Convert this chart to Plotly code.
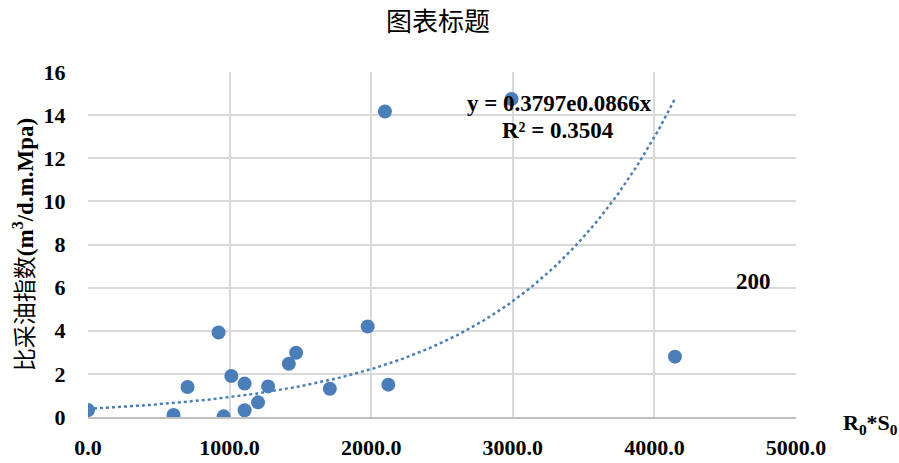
import numpy as np
import plotly.graph_objects as go

# Measured samples: R0*S0 vs specific productivity index
r0s0 = [0, 604, 703, 922, 958, 1012, 1106, 1106, 1201, 1272, 1418, 1470,
        1708, 1975, 2097, 2121, 2991, 4145]
pi_index = [0.32, 0.09, 1.39, 3.92, 0.03, 1.90, 1.55, 0.31, 0.68, 1.42, 2.47,
            2.98, 1.31, 4.20, 14.17, 1.50, 14.75, 2.80]

# Exponential trend y = a * exp(b * x)
trend_a = 0.3797
trend_b = 0.000883
x_ticks = [0, 1000, 2000, 3000, 4000, 5000]
y_ticks = [0, 2, 4, 6, 8, 10, 12, 14, 16]

blue = "#4a7ebb"
serif = "Liberation Serif, Times New Roman, serif"
cjk = "Noto Sans CJK SC"

# plot-area edges in pixels, used to place free-floating labels
L, R, T, B = 88, 796, 72, 417

def px(x):
    return (x - L) / (R - L)

def py(y):
    return (B - y) / (B - T)

xt = np.linspace(min(r0s0), max(r0s0), 200)
yt = trend_a * np.exp(trend_b * xt)

fig = go.Figure()
fig.add_trace(go.Scatter(x=xt, y=yt, mode="lines",
                         line=dict(color=blue, width=2.5, dash="dot"),
                         hoverinfo="skip", showlegend=False))
fig.add_trace(go.Scatter(x=r0s0, y=pi_index, mode="markers",
                         marker=dict(color=blue, size=14, line=dict(width=0)),
                         showlegend=False))

fig.update_layout(
    width=899, height=463,
    margin=dict(l=L, r=899 - R, t=T, b=463 - B),
    paper_bgcolor="white", plot_bgcolor="white",
    title=dict(text="图表标题", x=(438 / 899), xanchor="center", y=1 - 22 / 463, yanchor="middle",
               font=dict(family=cjk, size=26, color="#000")),
    xaxis=dict(range=[0, 5000], tickvals=x_ticks, tickformat=".1f",
               showgrid=True, gridcolor="#d9d9d9", gridwidth=1.5,
               zeroline=False, showline=True, linecolor="#bfbfbf", linewidth=2,
               ticks="outside", ticklen=10, tickcolor="rgba(0,0,0,0)",
               automargin=False,
               tickfont=dict(family=serif, size=22, color="#000", weight="bold")),
    yaxis=dict(range=[0, 16], tickvals=y_ticks,
               showgrid=True, gridcolor="#d9d9d9", gridwidth=1.5,
               zeroline=False, showline=False,
               ticks="outside", ticklen=17, tickcolor="rgba(0,0,0,0)",
               automargin=False,
               tickfont=dict(family=serif, size=22, color="#000", weight="bold"),
               title=dict(text="<span style='font-family:Noto Sans CJK SC;font-weight:normal'>比采油指数</span>"
                               "<b>(m<sup>3</sup>/d.m.Mpa)</b>",
                          font=dict(family=serif, size=23, color="#000"),
                          standoff=3)),
)

label_font = dict(family=serif, size=23, color="#000")
fig.add_annotation(x=px(559), y=py(104), xref="paper", yref="paper",
                   text="<b>y = 0.3797e0.0866x</b>", showarrow=False,
                   font=label_font, xanchor="center", yanchor="middle")
fig.add_annotation(x=px(558), y=py(130), xref="paper", yref="paper",
                   text="<b>R² = 0.3504</b>", showarrow=False,
                   font=label_font, xanchor="center", yanchor="middle")
fig.add_annotation(x=px(753), y=py(281), xref="paper", yref="paper",
                   text="<b>200</b>", showarrow=False,
                   font=label_font, xanchor="center", yanchor="middle")
fig.add_annotation(x=px(870), y=py(424), xref="paper", yref="paper",
                   text="<b>R<sub>0</sub>*S<sub>0</sub></b>", showarrow=False,
                   font=dict(family=serif, size=22, color="#000"),
                   xanchor="center", yanchor="middle")

fig.write_html("out.html")
